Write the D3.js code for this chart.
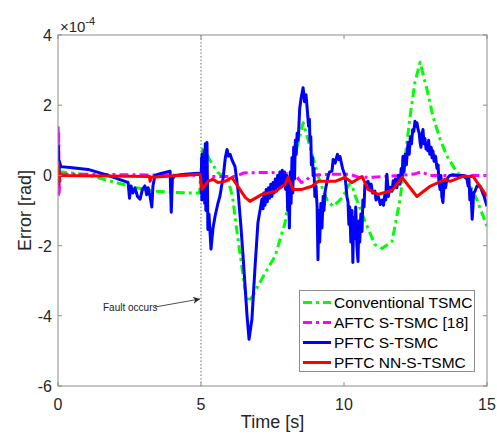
<!DOCTYPE html>
<html>
<head>
<meta charset="utf-8">
<script src="https://cdn.jsdelivr.net/npm/d3@7"></script>
<style>
  body { margin: 0; background: #fff; }
  svg { display: block; font-family: "Liberation Sans", Arial, sans-serif; }
</style>
</head>
<body>
<svg id="chart" width="497" height="437"></svg>
<script>
// values are [time s, error in 1e-4 rad] (the axis shows x10^-4)
const xTicks = [0, 5, 10, 15];
const yTicks = [-6, -4, -2, 0, 2, 4];
const seriesNames = ["Conventional TSMC", "AFTC S-TSMC [18]", "PFTC S-TSMC", "PFTC NN-S-TSMC"];

const convData = [[0, 0.1], [0.15, 0.1], [1.0, 0.02], [2.0, -0.2], [2.5, -0.3], [3.0, -0.4], [3.4, -0.45], [4.0, -0.48], [4.5, -0.5], [4.95, -0.5],
    [5.03, 0.5], [5.07, 0.83], [5.3, 0.45], [5.59, 0.08], [5.94, -0.1], [6.1, -0.6], [6.29, -1.8], [6.54, -3.25], [6.64, -3.6], [6.8, -3.45],
    [6.99, -3.15], [7.3, -2.7], [7.59, -2.3], [7.94, -1.35], [8.11, -0.4], [8.3, 0.6], [8.57, 1.5], [8.75, 1.0], [9.09, 0], [9.3, -0.5],
    [9.44, -0.75], [9.62, -0.88], [9.8, -0.75], [9.97, -0.6], [10.14, -0.3], [10.25, -0.2], [10.4, -0.6], [10.73, -1.3], [11.08, -1.97], [11.33, -2.08],
    [11.68, -1.88], [11.96, -0.68], [12.13, 0.45], [12.31, 1.68], [12.48, 2.65], [12.66, 3.22], [12.9, 2.45], [13.11, 1.68], [13.36, 1.03], [13.6, 0.55],
    [13.95, 0.08], [14.3, -0.1], [14.65, -0.7], [15, -1.45]];

const aftcData = [[0, 0], [0.005, 1.4], [0.015, -0.6], [0.025, 1.2], [0.04, -0.5], [0.08, 0.03], [1.0, 0.03], [4.9, 0.0], [5.1, -0.03], [6.2, -0.03],
    [6.5, 0.07], [7.0, 0.08], [7.5, 0.08], [8.0, 0.05], [8.3, 0.02], [8.5, -0.2], [8.65, -0.17], [8.85, 0], [9.5, 0.03], [10.2, 0.03],
    [10.5, -0.05], [11.0, -0.05], [12.0, 0], [12.5, 0.05], [12.7, 0.1], [13.0, 0], [14.0, 0], [15, 0]];

const pftcData = [[0, 0], [0.01, 0.83], [0.03, -0.2], [0.05, 0.4], [0.1, 0.25], [0.5, 0.22], [1.05, 0.17], [1.64, 0.03], [2.34, -0.17], [2.45, -0.2],
    [2.5, -0.65], [2.55, -0.3], [2.62, -0.5], [2.69, -0.35], [2.78, -0.6], [2.87, -0.68], [2.95, -0.4], [3.04, -0.3], [3.1, -0.55], [3.15, -0.35],
    [3.22, -0.6], [3.28, -0.9], [3.32, -0.3], [3.39, 0.0], [3.57, 0.05], [3.92, 0.12], [3.96, -1.05], [4.0, -0.1], [4.09, 0.0], [4.44, 0.03],
    [4.9, 0.06], [5.0, 0.05], [5.01, -0.5], [5.02, 0.5], [5.03, -0.7], [5.04, 0.6], [5.05, -0.6], [5.07, 0.5], [5.09, -0.4], [5.11, 0.7],
    [5.13, -0.8], [5.15, 0.9], [5.17, -1.0], [5.19, 0.6], [5.21, 0.94], [5.23, -0.6], [5.24, -1.54], [5.28, -1.1], [5.3, -1.4], [5.35, -2.1],
    [5.42, -1.5], [5.49, -1.17], [5.59, -0.8], [5.66, -0.6], [5.72, -0.3], [5.77, -0.1], [5.85, 0.5], [5.91, 0.74], [5.96, 0.55], [6.02, 0.6],
    [6.08, 0.45], [6.19, 0.25], [6.29, -0.4], [6.4, -1.5], [6.47, -2.3], [6.61, -4.0], [6.68, -4.67], [6.78, -4.1], [6.89, -2.6], [6.99, -1.35],
    [7.13, -0.68], [7.17, -0.95], [7.2, -0.5], [7.24, -0.85], [7.28, -0.4], [7.32, -0.75], [7.36, -0.35], [7.4, -0.65], [7.44, -0.25], [7.48, -0.6],
    [7.52, -0.2], [7.56, -0.5], [7.6, -0.1], [7.64, -0.45], [7.68, 0.0], [7.72, -0.35], [7.76, 0.1], [7.8, -0.3], [7.84, 0.15], [7.88, -0.25],
    [7.92, 0.1], [7.96, -0.4], [8.0, 0.0], [8.03, -1.0], [8.06, -0.2], [8.09, -1.5], [8.12, 0.1], [8.15, -0.8], [8.18, 0.5], [8.21, -0.5],
    [8.24, 0.8], [8.27, -0.1], [8.3, 1.0], [8.33, 0.6], [8.36, 1.2], [8.4, 1.0], [8.45, 1.9], [8.5, 2.2], [8.57, 2.5], [8.62, 2.1],
    [8.67, 2.3], [8.71, 1.94], [8.76, 1.4], [8.79, 1.6], [8.81, 0.97], [8.84, 1.1], [8.86, 0.3], [8.9, 0.5], [8.92, 0], [8.95, 0.2],
    [8.98, -0.6], [9.02, -0.3], [9.06, -0.9], [9.09, -2.4], [9.12, -1.0], [9.15, -1.9], [9.19, -0.8], [9.23, -1.5], [9.27, -0.6], [9.3, -1.0],
    [9.34, -0.45], [9.4, -0.2], [9.45, 0.0], [9.5, 0.1], [9.58, 0.12], [9.62, 0.45], [9.69, 0.35], [9.77, 0.6], [9.82, 0.45], [9.86, 0.54],
    [9.95, 0.2], [10.03, 0], [10.07, -0.3], [10.1, -0.6], [10.14, -0.75], [10.17, -1.4], [10.2, -0.9], [10.24, -1.9], [10.28, -1.0], [10.31, -2.48],
    [10.34, -1.2], [10.38, -1.8], [10.41, -0.9], [10.45, -2.0], [10.49, -2.45], [10.52, -1.3], [10.55, -1.9], [10.59, -1.1], [10.63, -1.6], [10.66, -0.7],
    [10.7, -0.9], [10.73, -0.26], [10.84, -0.17], [10.9, -0.35], [10.95, -0.25], [11.0, -0.5], [11.08, -0.45], [11.12, -0.7], [11.2, -0.6], [11.27, -0.83],
    [11.33, -0.7], [11.38, -0.85], [11.43, -0.54], [11.46, -0.7], [11.48, -0.2], [11.5, 0.03], [11.53, -0.3], [11.55, -0.6], [11.61, -0.34], [11.68, -0.45],
    [11.72, -0.15], [11.75, -0.35], [11.8, -0.1], [11.85, -0.35], [11.9, 0.0], [11.96, -0.25], [12.0, 0.2], [12.03, -0.1], [12.06, 0.54], [12.1, 0.1],
    [12.14, 0.6], [12.18, 0.3], [12.24, 0.94], [12.28, 0.6], [12.32, 1.1], [12.36, 0.9], [12.4, 1.3], [12.44, 1.25], [12.48, 1.54], [12.52, 1.4],
    [12.55, 1.5], [12.59, 1.31], [12.63, 1.2], [12.66, 0.95], [12.69, 0.8], [12.72, 1.1], [12.76, 1.31], [12.8, 0.9], [12.83, 1.05], [12.87, 0.75],
    [12.9, 0.9], [12.93, 0.7], [12.96, 1.0], [13.0, 0.6], [13.05, 0.8], [13.08, 0.5], [13.11, 0.7], [13.15, 0.4], [13.2, 0.55], [13.25, 0.2],
    [13.29, 0.3], [13.32, -0.2], [13.36, -0.4], [13.39, 0.0], [13.42, -0.6], [13.46, -0.77], [13.5, -0.2], [13.55, -0.35], [13.6, -0.1], [13.7, 0.0],
    [13.81, 0.02], [14.0, 0.0], [14.16, 0.0], [14.3, -0.1], [14.34, -0.3], [14.37, -0.1], [14.4, -0.7], [14.44, -0.4], [14.48, -1.25], [14.51, -0.9],
    [14.53, -0.5], [14.58, -0.45], [14.65, -0.3], [14.76, -0.31], [14.85, -0.5], [14.9, -0.6], [15, -0.88]];

const nnData = [[0, 0], [0.01, 0.37], [0.03, -0.26], [0.05, 0.1], [0.1, 0.0], [3.2, -0.03], [3.22, -0.17], [3.26, -0.05], [4.97, 0.03], [5.03, -0.4],
    [5.24, -0.17], [5.42, -0.11], [5.59, -0.2], [5.84, -0.17], [6.08, -0.06], [6.29, -0.31], [6.54, -0.62], [6.71, -0.74], [7.13, -0.54], [7.59, -0.46],
    [7.94, -0.26], [8.04, -0.06], [8.22, -0.4], [8.53, -0.4], [8.88, -0.31], [9.09, -0.17], [9.34, -0.17], [9.69, -0.17], [10.03, -0.06], [10.28, -0.2],
    [10.63, -0.03], [10.84, -0.4], [11.19, -0.54], [11.54, -0.46], [11.71, -0.4], [12.03, -0.06], [12.55, -0.6], [13.01, -0.31], [13.53, -0.11], [13.71, -0.17],
    [14.16, -0.03], [14.51, -0.03], [14.83, -0.4], [15, -0.6]];

const margin = { left: 58, right: 487, top: 35, bottom: 386 };
const svg = d3.select("#chart");

const x = d3.scaleLinear().domain([0, 15]).range([margin.left, margin.right]);
const y = d3.scaleLinear().domain([-6, 4]).range([margin.bottom, margin.top]);

const series = [
    { name: seriesNames[0], data: convData, color: "#00ff00", dash: "9,4,3,4" },
    { name: seriesNames[1], data: aftcData, color: "#ff00ff", dash: "9,4,3,4" },
    { name: seriesNames[2], data: pftcData, color: "#0000ff", dash: null },
    { name: seriesNames[3], data: nnData, color: "#ff0000", dash: null }
];

svg.append("defs").append("clipPath").attr("id", "plotClip")
  .append("rect")
    .attr("x", margin.left).attr("y", margin.top)
    .attr("width", margin.right - margin.left).attr("height", margin.bottom - margin.top);

// fault marker
svg.append("line")
    .attr("x1", x(5)).attr("x2", x(5))
    .attr("y1", margin.top).attr("y2", margin.bottom)
    .attr("stroke", "#444").attr("stroke-width", 0.8)
    .attr("stroke-dasharray", "1.5,2");

const line = d3.line().x(d => x(d[0])).y(d => y(d[1]));

const plot = svg.append("g").attr("clip-path", "url(#plotClip)");
series.forEach(s => {
    plot.append("path")
        .datum(s.data)
        .attr("d", line)
        .attr("fill", "none")
        .attr("stroke", s.color)
        .attr("stroke-width", 3)
        .attr("stroke-linejoin", "round")
        .attr("stroke-dasharray", s.dash);
});

// axes box with inward ticks on every side
const axisColor = "#8c8c8c";
const tickLen = 4;
const axes = svg.append("g");
axes.append("rect")
    .attr("x", margin.left).attr("y", margin.top)
    .attr("width", margin.right - margin.left).attr("height", margin.bottom - margin.top)
    .attr("fill", "none").attr("stroke", axisColor).attr("stroke-width", 1);

xTicks.forEach(t => {
    axes.append("line").attr("x1", x(t)).attr("x2", x(t))
        .attr("y1", margin.bottom).attr("y2", margin.bottom - tickLen).attr("stroke", axisColor);
    axes.append("line").attr("x1", x(t)).attr("x2", x(t))
        .attr("y1", margin.top).attr("y2", margin.top + tickLen).attr("stroke", axisColor);
    axes.append("text")
        .attr("x", x(t)).attr("y", margin.bottom + 24)
        .attr("text-anchor", "middle").attr("font-size", 16).attr("fill", "#262626")
        .text(t);
});

yTicks.forEach(v => {
    axes.append("line").attr("x1", margin.left).attr("x2", margin.left + tickLen)
        .attr("y1", y(v)).attr("y2", y(v)).attr("stroke", axisColor);
    axes.append("line").attr("x1", margin.right).attr("x2", margin.right - tickLen)
        .attr("y1", y(v)).attr("y2", y(v)).attr("stroke", axisColor);
    axes.append("text")
        .attr("x", margin.left - 6).attr("y", y(v) + 6)
        .attr("text-anchor", "end").attr("font-size", 16).attr("fill", "#262626")
        .text(v);
});

// exponent label
const expo = svg.append("text").attr("x", 60).attr("y", 32).attr("fill", "#262626");
expo.append("tspan").attr("font-size", 15).text("\u00d710");
expo.append("tspan").attr("font-size", 11).attr("dy", -7).text("-4");

// axis titles
svg.append("text")
    .attr("x", (margin.left + margin.right) / 2).attr("y", 428)
    .attr("text-anchor", "middle").attr("font-size", 18).attr("fill", "#262626")
    .text("Time [s]");
svg.append("text")
    .attr("transform", "translate(31," + ((margin.top + margin.bottom) / 2) + ") rotate(-90)")
    .attr("text-anchor", "middle").attr("font-size", 18).attr("fill", "#262626")
    .text("Error [rad]");

// annotation
svg.append("defs").append("marker")
    .attr("id", "arrowHead").attr("viewBox", "0 0 10 10")
    .attr("refX", 10).attr("refY", 5)
    .attr("markerWidth", 9).attr("markerHeight", 7)
    .attr("orient", "auto").attr("markerUnits", "userSpaceOnUse")
  .append("path").attr("d", "M0,0 L10,5 L0,10 L3,5 Z").attr("fill", "#222");
svg.append("line")
    .attr("x1", 155).attr("y1", 307).attr("x2", 200).attr("y2", 299)
    .attr("stroke", "#222").attr("stroke-width", 0.8)
    .attr("marker-end", "url(#arrowHead)");
svg.append("text")
    .attr("x", 103).attr("y", 311).attr("font-size", 10).attr("fill", "#222")
    .text("Fault occurs");

// legend
const legend = svg.append("g");
legend.append("rect")
    .attr("x", 299.5).attr("y", 290.5).attr("width", 175).attr("height", 81)
    .attr("fill", "#fff").attr("stroke", axisColor);
series.forEach((s, i) => {
    const ly = 302.5 + i * 20;
    legend.append("line")
        .attr("x1", 303).attr("x2", 331).attr("y1", ly).attr("y2", ly)
        .attr("stroke", s.color).attr("stroke-width", 3)
        .attr("stroke-dasharray", s.dash);
    legend.append("text")
        .attr("x", 334).attr("y", ly + 5.5)
        .attr("font-size", 15.5).attr("fill", "#000")
        .text(s.name);
});
</script>
</body>
</html>
